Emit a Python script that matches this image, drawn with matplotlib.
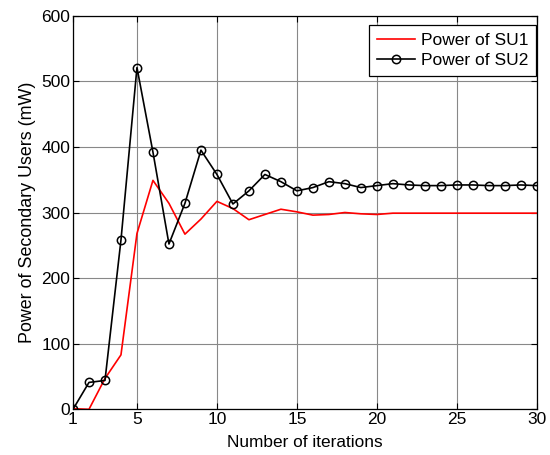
import matplotlib
matplotlib.use("Agg")
import matplotlib.pyplot as plt

plt.rcParams['font.family'] = ['Liberation Sans', 'DejaVu Sans']

iterations = list(range(1, 31))
su1 = [1, 0, 47, 83, 268, 349, 314, 267, 290, 317, 306, 289, 297, 305, 301,
       296, 297, 300, 298, 297, 299, 299, 299, 299, 299, 299, 299, 299, 299, 299]
su2 = [0, 41, 44, 258, 521, 392, 252, 314, 395, 358, 313, 333, 358, 347, 333,
       338, 347, 344, 338, 341, 344, 342, 341, 341, 342, 342, 341, 341, 342, 341]
xticks = [1, 5, 10, 15, 20, 25, 30]
yticks = [0, 100, 200, 300, 400, 500, 600]

fig = plt.figure(figsize=(5.5, 4.55), dpi=100)
ax = fig.add_axes([0.1327, 0.1004, 0.8433, 0.8651])

ax.plot(iterations, su1, 'r-', lw=1.2, label='Power of SU1')
ax.plot(iterations, su2, 'k-o', lw=1.2, markersize=6, markerfacecolor='none',
        markeredgewidth=1.1, label='Power of SU2')

ax.set_xlim(1, 30)
ax.set_ylim(0, 600)
ax.set_xticks(xticks)
ax.set_yticks(yticks)
ax.grid(True, color='#888888', linestyle='-', linewidth=0.8)
ax.tick_params(direction='in', top=True, right=True, labelsize=12.5, length=4, pad=2)
for s in ax.spines.values():
    s.set_linewidth(0.9)

ax.set_xlabel('Number of iterations', fontsize=12.4, labelpad=6)
ax.set_ylabel('Power of Secondary Users (mW)', fontsize=12.9, labelpad=4)

leg = ax.legend(loc='upper right', bbox_to_anchor=(0.998, 0.977), fontsize=12.5,
                fancybox=False, framealpha=1, edgecolor='black', borderaxespad=0,
                handlelength=2.2, handletextpad=0.3, borderpad=0.45, labelspacing=0.3)
leg.get_frame().set_linewidth(0.9)

fig.savefig('out.png', dpi=100)
